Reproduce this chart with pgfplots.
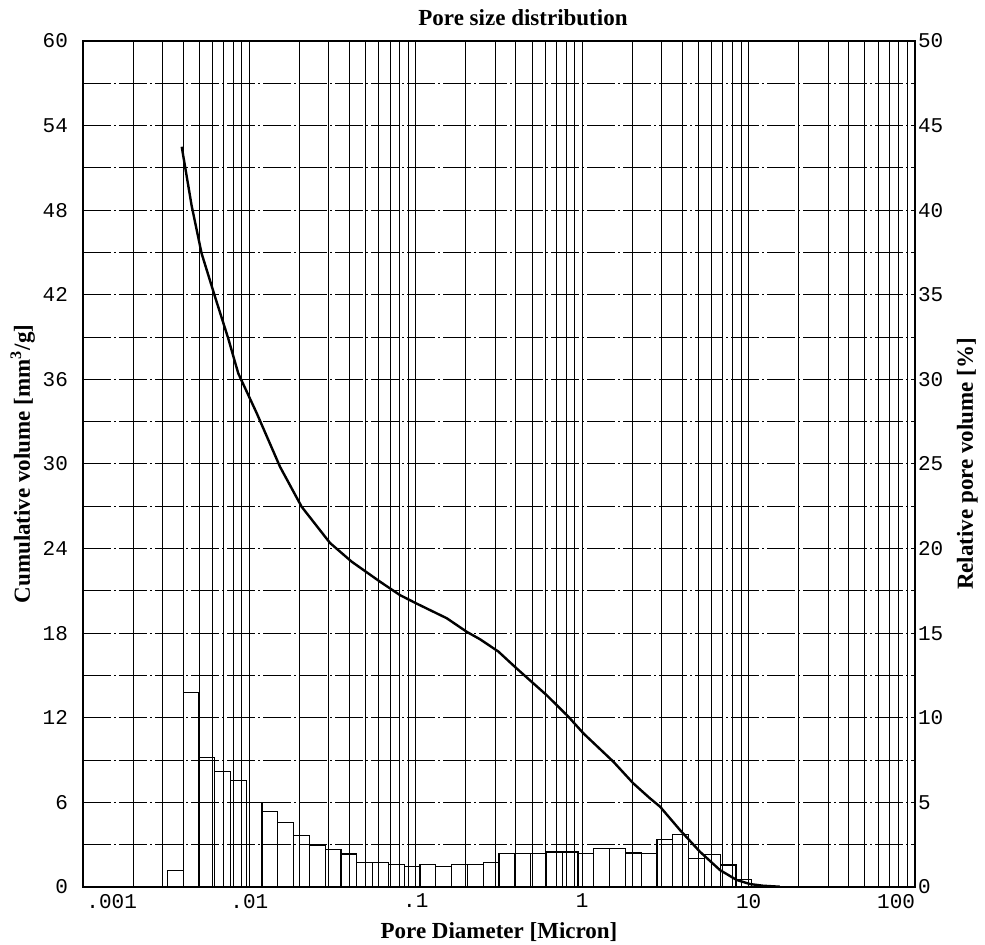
\documentclass[border=0pt]{standalone}
\usepackage{fontspec}
\setmainfont{Liberation Serif}
\setmonofont{Liberation Mono}
\usepackage{pgfplots}
\usepackage{pgfplotstable}
\pgfplotsset{compat=1.18}

% relative pore volume [%], left bin edge in micron
\pgfplotstableread{
d h
0.003211 0.96
0.003996 11.48
0.004970 7.63
0.006184 6.81
0.007695 6.28
0.009576 4.98
0.011915 4.44
0.014826 3.79
0.018450 3.03
0.022955 2.48
0.028563 2.23
0.035540 1.95
0.044219 1.44
0.055028 1.46
0.068470 1.33
0.085196 1.21
0.10600 1.33
0.13190 1.21
0.16414 1.33
0.20420 1.33
0.25410 1.46
0.31616 1.98
0.39338 1.98
0.48956 1.98
0.60911 2.07
0.75786 2.07
0.94298 1.98
1.1733 2.27
1.4598 2.27
1.8163 2.01
2.2605 2.00
2.8124 2.83
3.4995 3.10
4.3551 1.68
5.4187 1.93
6.7422 1.30
8.3890 0.46
10.438 0.46
}\relvol

\pgfplotstableread{
d v
0.00392 52.5
0.00450 48.3
0.00516 44.94
0.00621 41.87
0.00746 38.91
0.00857 36.43
0.01107 33.6
0.01528 29.8
0.0206 26.97
0.0305 24.4
0.0412 23.07
0.0610 21.65
0.0804 20.7
0.1012 20.1
0.1535 19.06
0.2023 18.1
0.2432 17.57
0.3133 16.7
0.4036 15.5
0.612 13.6
0.826 12.08
1.016 10.9
1.538 8.89
2.028 7.35
2.553 6.29
2.935 5.7
3.87 4.04
5.10 2.5
6.73 1.2
8.47 0.5
10.19 0.21
12.2 0.09
15.4 0.02
}\cumvol

\begin{document}
\begin{tikzpicture}
\pgfplotsset{
  every axis/.append style={
    scale only axis, width=416pt, height=423pt,
    xmode=log, xmin=0.001, xmax=100,
    major tick length=0pt, minor tick length=0pt,
    /pgf/number format/assume math mode=true,
    tick label style={font=\ttfamily\fontsize{10.5}{12}\selectfont},
    label style={font=\bfseries\fontsize{11.5}{13}\selectfont},
  }
}
\begin{axis}[
  ymin=0, ymax=60,
  ytick={0,6,...,60}, minor ytick={3,9,...,57},
  xtick={0.001,0.01,0.1,1,10,100},
  xticklabels={\makebox[0pt][l]{\,.001},.01,.1,1,10,\makebox[0pt][r]{100}},
  yticklabel style={xshift=-4pt},
  ylabel shift=-3pt,
  grid=both,
  major x grid style={black, line width=0.5pt},
  minor x grid style={black, line width=0.5pt},
  major y grid style={black, line width=0.5pt, dash pattern=on 14pt off 1.5pt on 1pt off 1.5pt},
  minor y grid style={black, line width=0.5pt, dash pattern=on 14pt off 1.5pt on 1pt off 1.5pt},
  axis line style={black, line width=0.9pt},
  ylabel={Cumulative volume [mm$^{\mathbf{3}}$/g]},
  xlabel={Pore Diameter [Micron]},
  title={\bfseries\fontsize{11.5}{13}\selectfont Pore size distribution},
  title style={xshift=12pt, yshift=-2pt},
]
\addplot[black, line width=1.2pt] table[x=d, y=v] {\cumvol};
\coordinate (bl) at (rel axis cs:-0.09976,-0.06738);
\coordinate (tr) at (rel axis cs:1.0841,1.04846);
\end{axis}
\begin{axis}[
  ymin=0, ymax=50,
  axis y line*=right, axis x line=none,
  ytick={0,5,...,50},
  axis line style={black, line width=0.9pt},
  ylabel={Relative pore volume [\%]},
  yticklabel style={xshift=-2pt},
]
\addplot[ybar interval, draw=black, fill=none, line width=0.6pt] table[x=d, y=h] {\relvol};
\end{axis}
\pgfresetboundingbox
\path[use as bounding box] (bl) rectangle (tr);
\end{tikzpicture}
\end{document}
